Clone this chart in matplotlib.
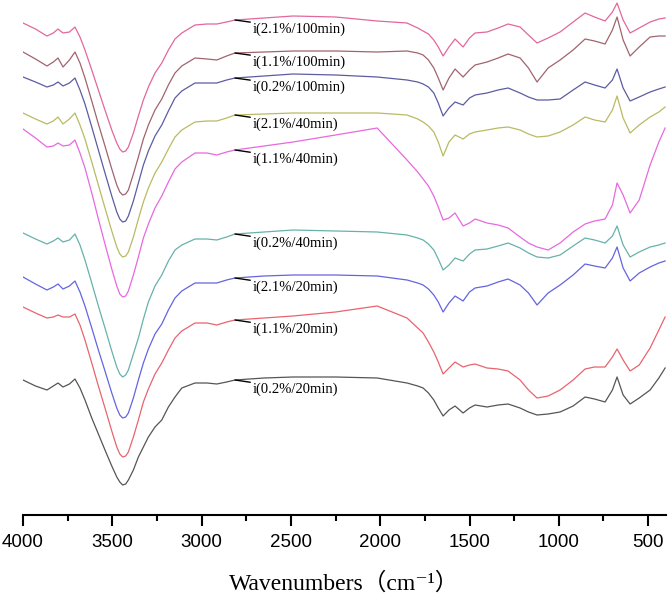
import matplotlib.pyplot as plt
import numpy as np

# wavenumber grid (cm-1)
wavenumbers = [4000, 3930, 3866, 3830, 3804, 3776, 3740, 3709,
               3681, 3653, 3615, 3578, 3541, 3503, 3475, 3458, 3442, 3425,
               3410, 3382, 3354, 3326, 3298, 3261, 3223, 3186, 3149, 3111, 3037,
               2970, 2915, 2860, 2813,
               2650, 2488, 2250, 2017, 1850, 1790, 1760, 1730, 1700, 1675,
               1648, 1615, 1581, 1536, 1500, 1469, 1402, 1340, 1284, 1217,
               1170, 1122, 1060, 993, 920, 853, 800, 741, 700, 674,
               640, 601, 550, 489, 440, 405]

# stacked spectra (offset units, larger = lower on the page)
s_21_100 = [23, 29, 36, 33, 29, 33, 32, 27,
            37, 50, 70, 90, 110, 130, 143, 149, 152, 151,
            147, 133, 116, 100, 87, 73, 63, 50, 39, 33, 25,
            24, 24, 22, 20,
            18, 16, 17, 21, 23, 28, 31, 34, 40, 47,
            56, 47, 39, 47, 38, 33, 32, 28, 24, 27,
            35, 43, 38, 32, 22, 13, 17, 21, 12, 3,
            20, 33, 28, 22, 19, 18]
s_11_100 = [52, 59, 66, 62, 58, 67, 60, 52,
            63, 78, 101, 124, 146, 169, 185, 192, 195, 194,
            190, 174, 157, 139, 125, 110, 99, 85, 73, 66, 58,
            59, 60, 56, 53,
            52, 51, 51, 52, 51, 53, 55, 60, 68, 78,
            90, 78, 69, 77, 70, 65, 62, 58, 54, 58,
            68, 82, 68, 60, 50, 39, 41, 44, 30, 17,
            40, 56, 47, 37, 36, 36]
s_02_100 = [77, 82, 87, 85, 82, 86, 83, 78,
            90, 104, 127, 150, 173, 196, 212, 219, 222, 221,
            216, 201, 183, 165, 151, 136, 125, 111, 98, 91, 83,
            83, 83, 80, 78,
            76, 74, 75, 77, 80, 82, 84, 87, 93, 103,
            116, 108, 102, 105, 98, 95, 93, 90, 88, 93,
            97, 100, 100, 99, 90, 82, 85, 88, 80, 69,
            88, 101, 97, 92, 89, 87]
s_21_40 = [113, 119, 124, 121, 117, 124, 119, 113,
           125, 139, 162, 185, 208, 231, 247, 254, 257, 256,
           252, 237, 219, 202, 188, 173, 162, 149, 137, 130, 122,
           121, 121, 118, 115,
           114, 113, 113, 113, 115, 119, 122, 126, 132, 142,
           156, 142, 135, 139, 134, 132, 130, 128, 127, 130,
           134, 137, 136, 132, 125, 117, 120, 122, 110, 96,
           118, 133, 125, 117, 112, 107]
s_11_40 = [129, 138, 147, 146, 143, 146, 145, 140,
           153, 168, 193, 219, 244, 269, 286, 294, 297, 296,
           291, 275, 257, 238, 224, 208, 196, 182, 169, 162, 153,
           153, 155, 152, 150,
           146, 142, 135, 128, 160, 172, 179, 186, 196, 207,
           220, 218, 213, 226, 223, 219, 223, 225, 228, 237,
           243, 247, 250, 243, 232, 224, 221, 219, 205, 183,
           195, 213, 200, 165, 142, 128]
s_02_40 = [233, 239, 244, 241, 238, 242, 240, 234,
           245, 260, 283, 306, 328, 351, 367, 374, 377, 375,
           370, 354, 338, 319, 302, 286, 275, 261, 250, 245, 239,
           239, 240, 237, 234,
           232, 230, 231, 232, 235, 238, 240, 244, 250, 259,
           270, 265, 258, 261, 254, 250, 249, 246, 243, 248,
           253, 257, 258, 255, 246, 238, 240, 243, 236, 226,
           245, 257, 252, 247, 245, 243]
s_21_20 = [277, 284, 290, 287, 284, 289, 286, 281,
           292, 306, 328, 350, 371, 393, 408, 415, 418, 417,
           413, 398, 380, 363, 349, 334, 324, 310, 298, 291, 283,
           283, 283, 280, 278,
           276, 275, 275, 276, 280, 283, 285, 289, 295, 302,
           312, 303, 296, 301, 292, 288, 286, 282, 279, 285,
           293, 305, 293, 285, 275, 264, 266, 268, 258, 247,
           268, 281, 273, 267, 263, 261]
s_11_20 = [307, 313, 318, 317, 315, 317, 317, 314,
           325, 340, 363, 386, 408, 431, 447, 454, 457, 456,
           452, 437, 420, 402, 389, 374, 363, 350, 338, 331, 323,
           323, 325, 322, 320,
           318, 316, 312, 306, 318, 328, 333, 342, 352, 362,
           374, 368, 362, 367, 365, 364, 368, 369, 371, 380,
           390, 398, 396, 390, 380, 369, 367, 367, 357, 349,
           360, 371, 365, 348, 330, 317]
s_02_20 = [380, 386, 390, 386, 383, 387, 384, 379,
           388, 400, 418, 434, 450, 466, 477, 482, 485, 484,
           480, 470, 457, 447, 437, 427, 420, 407, 397, 388, 383,
           383, 384, 382, 380,
           378, 377, 377, 378, 383, 386, 388, 393, 400, 408,
           416, 410, 406, 413, 408, 405, 407, 405, 404, 408,
           412, 415, 414, 412, 406, 397, 399, 402, 390, 377,
           395, 404, 398, 390, 378, 368]

labels = ["i(2.1%/100min)", "i(1.1%/100min)", "i(0.2%/100min)",
          "i(2.1%/40min)", "i(1.1%/40min)", "i(0.2%/40min)",
          "i(2.1%/20min)", "i(1.1%/20min)", "i(0.2%/20min)"]
spectra = [s_21_100, s_11_100, s_02_100, s_21_40, s_11_40, s_02_40, s_21_20, s_11_20, s_02_20]
colors = ["#e2679c", "#a0646e", "#5c5ca2", "#baba62", "#e868e0",
          "#66b2aa", "#6464e0", "#e8646e", "#555555"]

fig = plt.figure(figsize=(6.69, 5.99), dpi=100)
ax = fig.add_axes([23 / 669, 84 / 599, 643 / 669, 515 / 599])

wn = np.array(wavenumbers)
idx_lab = wavenumbers.index(2813)
for spec, col, lab in zip(spectra, colors, labels):
    ax.plot(wn, spec, color=col, lw=0.9, solid_joinstyle="round")
    y0 = spec[idx_lab]
    # short leader line from the curve to its label
    ax.annotate(lab, xy=(2813, y0), xytext=(2712, y0 + 9),
                fontsize=10.5, family="Liberation Serif", ha="left", va="center",
                arrowprops=dict(arrowstyle="-", color="black", lw=1.0,
                                shrinkA=0, shrinkB=0))

ax.set_xlim(4000, 400)
ax.set_ylim(515, 0)

for side in ["left", "right", "top"]:
    ax.spines[side].set_visible(False)
ax.spines["bottom"].set_linewidth(1.5)
ax.set_yticks([])
ax.set_xticks([4000, 3500, 3000, 2500, 2000, 1500, 1000, 500])
ax.set_xticks(np.arange(3750, 400, -500), minor=True)
ax.tick_params(axis="x", which="major", direction="out", length=8, width=1.5,
               labelsize=13.5, pad=6)
ax.tick_params(axis="x", which="minor", direction="out", length=4, width=1.5)
for t in ax.get_xticklabels():
    t.set_family("Liberation Sans")

ax.set_xlabel("Wavenumbers（cm⁻¹）", fontsize=17, labelpad=15,
              family=["Liberation Serif", "DejaVu Serif", "Noto Sans CJK SC"])

fig.savefig("out.png", dpi=100)
